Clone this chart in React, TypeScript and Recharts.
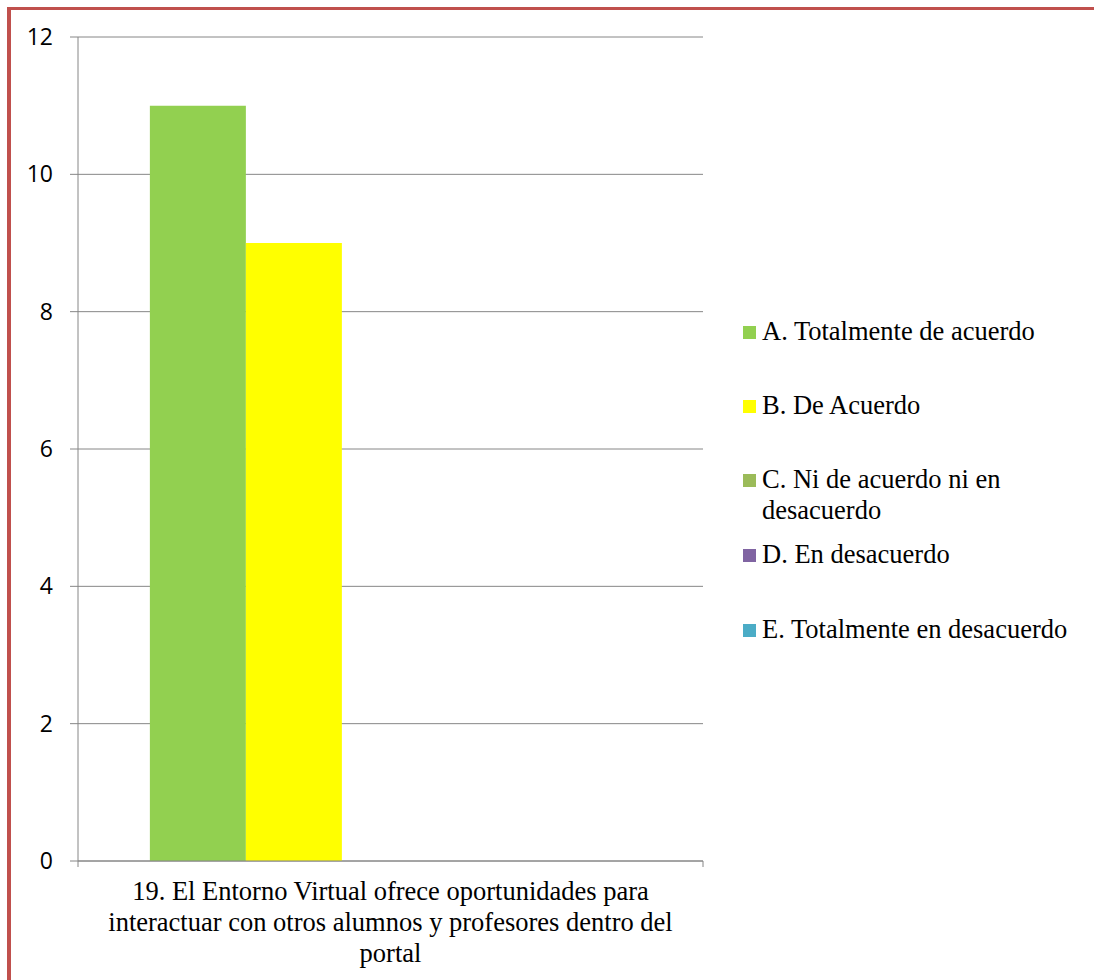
import React from "react"
import { BarChart, Bar, XAxis, YAxis, CartesianGrid } from "recharts"

const CATEGORIES = [
  "19. El Entorno Virtual ofrece oportunidades para interactuar con otros alumnos y profesores dentro del portal",
]
const SERIES_NAMES = [
  "A. Totalmente de acuerdo",
  "B. De Acuerdo",
  "C. Ni de acuerdo ni en desacuerdo",
  "D. En desacuerdo",
  "E. Totalmente en desacuerdo",
]
const SERIES_KEYS = ["a", "b", "c", "d", "e"]
const A_VALUES = [11]
const B_VALUES = [9]
const C_VALUES = [0]
const D_VALUES = [0]
const E_VALUES = [0]
const Y_TICKS = [0, 2, 4, 6, 8, 10, 12]

const COLORS = ["#92d050", "#ffff00", "#9bbb59", "#8064a2", "#4bacc6"]

const data = CATEGORIES.map((name, i) => ({
  name,
  a: A_VALUES[i],
  b: B_VALUES[i],
  c: C_VALUES[i],
  d: D_VALUES[i],
  e: E_VALUES[i],
}))

// layout
const W = 1094
const H = 980
const MARGIN = { top: 37, right: 391, bottom: 0, left: 0 }
const Y_AXIS_W = 78
const X_AXIS_H = 119
const PLOT_W = W - MARGIN.left - MARGIN.right - Y_AXIS_W
const PLOT_BOTTOM = H - X_AXIS_H
const GRID = "#868686"
const SERIF = "'Liberation Serif', 'Times New Roman', serif"
const LEGEND_TOPS = [316, 390, 464, 539, 614]
const WRAP_CHARS = 53

// greedy word wrap by character count
function wrap(s: string, max: number) {
  const lines: string[] = []
  let cur = ""
  for (const w of s.split(" ")) {
    const next = cur ? cur + " " + w : w
    if (next.length > max && cur) {
      lines.push(cur)
      cur = w
    } else cur = next
  }
  if (cur) lines.push(cur)
  return lines
}

function CategoryTick({ x, payload }: any) {
  const lines = wrap(String(payload.value), WRAP_CHARS)
  return (
    <g>
      <line x1={x - PLOT_W / 2} x2={x - PLOT_W / 2} y1={PLOT_BOTTOM} y2={PLOT_BOTTOM + 6} stroke={GRID} />
      <line x1={x + PLOT_W / 2} x2={x + PLOT_W / 2} y1={PLOT_BOTTOM} y2={PLOT_BOTTOM + 6} stroke={GRID} />
      <text
        x={x}
        y={PLOT_BOTTOM + 39}
        textAnchor="middle"
        style={{ fontFamily: SERIF, fontSize: 26.5, fill: "#000" }}
      >
        {lines.map((l, i) => (
          <tspan key={i} x={x} dy={i === 0 ? 0 : 31}>
            {l}
          </tspan>
        ))}
      </text>
    </g>
  )
}

export default function App() {
  return (
    <div style={{ position: "absolute", left: 0, top: 0, width: W, height: H, background: "#fff" }}>
      <div
        style={{
          position: "absolute",
          left: 7,
          top: 7,
          right: 0,
          bottom: 0,
          borderLeft: "4px solid #c0504d",
          borderTop: "3px solid #c0504d",
        }}
      />
      <div style={{ position: "absolute", left: 0, top: 0 }}>
        <BarChart width={W} height={H} data={data} margin={MARGIN} barCategoryGap="11.5%" barGap={0}>
          <CartesianGrid vertical={false} stroke={GRID} strokeWidth={1} />
          <XAxis
            dataKey="name"
            height={X_AXIS_H}
            tickLine={false}
            axisLine={{ stroke: GRID }}
            tick={<CategoryTick />}
            interval={0}
          />
          <YAxis
            width={Y_AXIS_W}
            domain={[0, 12]}
            ticks={Y_TICKS}
            tickSize={8}
            tickMargin={17}
            axisLine={{ stroke: GRID }}
            tickLine={{ stroke: GRID }}
            tick={{ fontFamily: "'Open Sans', sans-serif", fontSize: 23, fill: "#000" }}
          />
          {SERIES_KEYS.map((k, i) => (
            <Bar key={k} dataKey={k} name={SERIES_NAMES[i]} fill={COLORS[i]} isAnimationActive={false} />
          ))}
        </BarChart>
      </div>
      {SERIES_NAMES.map((name, i) => (
        <div
          key={name}
          style={{
            position: "absolute",
            left: 743,
            top: LEGEND_TOPS[i],
            width: 345,
            display: "flex",
            alignItems: "flex-start",
            fontFamily: SERIF,
            fontSize: 26.5,
            lineHeight: "31px",
            color: "#000",
          }}
        >
          <span
            style={{
              display: "inline-block",
              width: 13,
              height: 13,
              background: COLORS[i],
              marginTop: 10,
              marginRight: 6,
              flexShrink: 0,
            }}
          />
          <span style={{ width: 322 }}>{name}</span>
        </div>
      ))}
    </div>
  )
}
